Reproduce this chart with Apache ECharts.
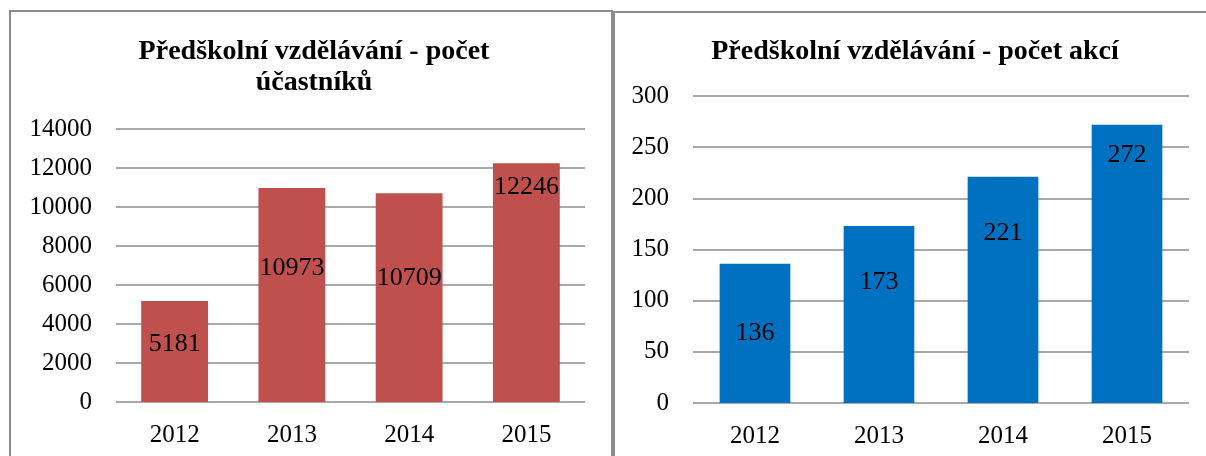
<!DOCTYPE html>
<html>
<head>
<meta charset="utf-8">
<script src="https://cdn.jsdelivr.net/npm/echarts@6/dist/echarts.min.js"></script>
<style>
html,body{margin:0;padding:0;background:#fff;}
#c{width:1206px;height:456px;}
</style>
</head>
<body>
<div id="c"></div>
<script>
const categories = ['2012', '2013', '2014', '2015'];
const participants = [5181, 10973, 10709, 12246];
const events = [136, 173, 221, 272];
const titleLeft = 'Předškolní vzdělávání - počet\núčastníků';
const titleRight = 'Předškolní vzdělávání - počet akcí';

const FONT = '"Liberation Serif", "Times New Roman", serif';
const chart = echarts.init(document.getElementById('c'));

function labelled(values, offsets) {
  return values.map((v, i) => ({
    value: v,
    label: { position: ['50%', offsets[i]] }
  }));
}

const gridLine = { show: true, lineStyle: { color: '#8c8c8c', width: 1.5 } };
const axisText = { color: '#000', fontFamily: FONT, fontSize: 25 };
const plain = v => String(v);

const option = {
  animation: false,
  backgroundColor: '#fff',
  graphic: [
    { type: 'polyline', shape: { points: [[10, 460], [10, 11], [612, 11], [612, 460]] },
      style: { stroke: '#8c8c8c', lineWidth: 2, fill: null } },
    { type: 'polyline', shape: { points: [[614, 460], [614, 12], [1210, 12]] },
      style: { stroke: '#8c8c8c', lineWidth: 2, fill: null } }
  ],
  title: [
    { text: titleLeft, left: 309, top: 31, textAlign: 'center',
      textStyle: { fontFamily: FONT, fontSize: 28, fontWeight: 'bold', color: '#000', lineHeight: 31, align: 'center' } },
    { text: titleRight, left: 910, top: 31, textAlign: 'center',
      textStyle: { fontFamily: FONT, fontSize: 28, fontWeight: 'bold', color: '#000', lineHeight: 31 } }
  ],
  grid: [
    { left: 116, right: 621, top: 129, bottom: 54 },
    { left: 693, right: 17, top: 96, bottom: 53 }
  ],
  xAxis: [
    { type: 'category', gridIndex: 0, data: categories, axisTick: { show: false },
      axisLine: { show: false }, axisLabel: Object.assign({ margin: 21 }, axisText) },
    { type: 'category', gridIndex: 1, data: categories, axisTick: { show: false },
      axisLine: { show: false }, axisLabel: Object.assign({ margin: 21 }, axisText) }
  ],
  yAxis: [
    { type: 'value', gridIndex: 0, min: 0, max: 14000, interval: 2000,
      splitLine: gridLine, axisLine: { show: false }, axisTick: { show: false },
      axisLabel: Object.assign({ margin: 24, formatter: plain }, axisText) },
    { type: 'value', gridIndex: 1, min: 0, max: 300, interval: 50,
      splitLine: gridLine, axisLine: { show: false }, axisTick: { show: false },
      axisLabel: Object.assign({ margin: 24, formatter: plain }, axisText) }
  ],
  series: [
    { type: 'bar', xAxisIndex: 0, yAxisIndex: 0, barCategoryGap: '43%',
      itemStyle: { color: '#C0504D' },
      label: { show: true, color: '#000', fontFamily: FONT, fontSize: 26, align: 'center', verticalAlign: 'middle' },
      data: labelled(participants, [43, 80, 85, 24]) },
    { type: 'bar', xAxisIndex: 1, yAxisIndex: 1, barCategoryGap: '43%',
      itemStyle: { color: '#0070C0' },
      label: { show: true, color: '#000', fontFamily: FONT, fontSize: 26, align: 'center', verticalAlign: 'middle' },
      data: labelled(events, [69, 56, 56, 31]) }
  ]
};
chart.setOption(option);
</script>
</body>
</html>
